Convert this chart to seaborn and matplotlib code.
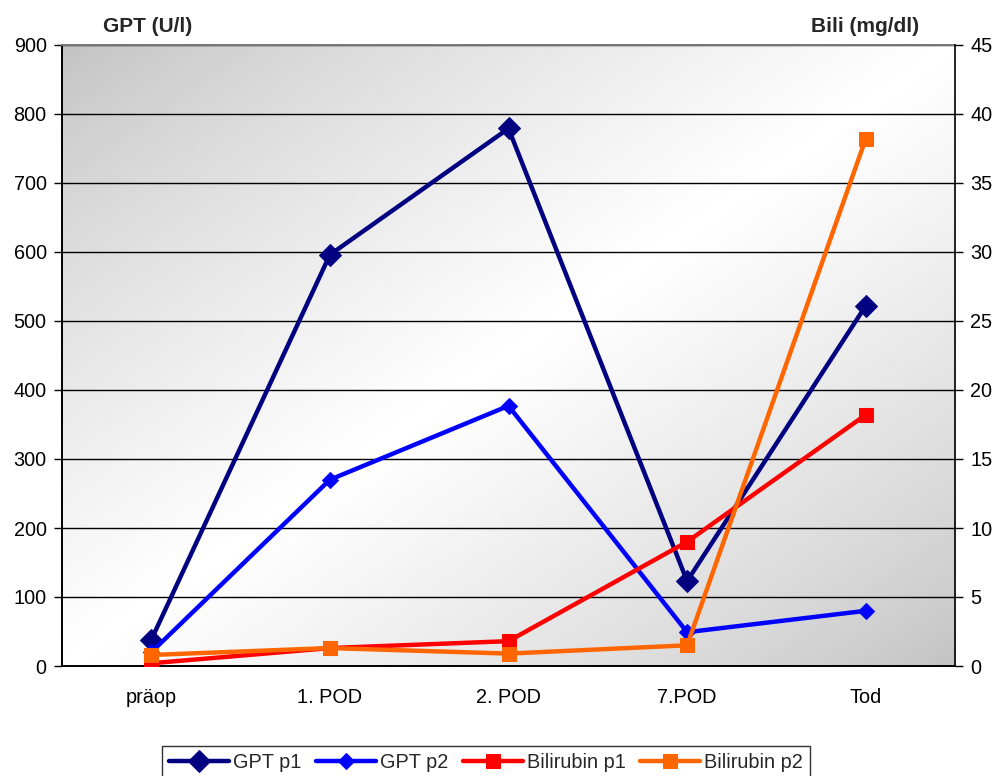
import numpy as np
import pandas as pd
import matplotlib
matplotlib.use("Agg")
import matplotlib.pyplot as plt
from matplotlib.ticker import MultipleLocator, FixedLocator
import seaborn as sns

# Time points
categories = ["präop", "1. POD", "2. POD", "7.POD", "Tod"]

# GPT (U/l), left axis
gpt_p1 = [38, 596, 779, 123, 522]
gpt_p2 = [20, 270, 377, 49, 80]

# Bilirubin (mg/dl), right axis
bili_p1 = [0.2, 1.3, 1.8, 9.0, 18.2]
bili_p2 = [0.8, 1.3, 0.9, 1.5, 38.2]

sns.set_theme(style="white")
plt.rcParams["font.family"] = ["Liberation Sans", "DejaVu Sans"]

FS = 14.3

fig = plt.figure(figsize=(9.97, 7.76), dpi=100)
ax = fig.add_axes([62 / 997, 1 - 666 / 776, (955 - 62) / 997, (666 - 45) / 776])
ax2 = ax.twinx()

# Diagonal grey-white-grey background
n = 400
xx, yy = np.meshgrid(np.linspace(0, 1, n), np.linspace(0, 1, n))
t = (xx + (1 - yy)) / 2
shade = 0.76 + 0.24 * (1 - np.abs(2 * t - 1)) ** 0.8
ax.imshow(shade, cmap="gray", vmin=0, vmax=1, extent=[0, 1, 0, 1],
          origin="lower", transform=ax.transAxes, aspect="auto", zorder=-10,
          interpolation="bilinear")

gpt_df = pd.DataFrame({"Zeit": categories * 2,
                       "GPT": gpt_p1 + gpt_p2,
                       "Serie": ["GPT p1"] * 5 + ["GPT p2"] * 5})
bili_df = pd.DataFrame({"Zeit": categories * 2,
                        "Bili": bili_p1 + bili_p2,
                        "Serie": ["Bilirubin p1"] * 5 + ["Bilirubin p2"] * 5})

styles = {
    "GPT p1": dict(color="#000080", marker="D", markersize=11, lw=3.2),
    "GPT p2": dict(color="#0000FF", marker="D", markersize=8, lw=3.2),
    "Bilirubin p1": dict(color="#FF0000", marker="s", markersize=10, lw=3.2),
    "Bilirubin p2": dict(color="#FF6600", marker="s", markersize=10, lw=3.2),
}

for name in ["GPT p1", "GPT p2"]:
    s = styles[name]
    sns.lineplot(data=gpt_df[gpt_df["Serie"] == name], x="Zeit", y="GPT", ax=ax,
                 sort=False, color=s["color"], marker=s["marker"],
                 markersize=s["markersize"], linewidth=s["lw"],
                 markeredgecolor=s["color"], label=name, legend=False, zorder=3)
for name in ["Bilirubin p1", "Bilirubin p2"]:
    s = styles[name]
    sns.lineplot(data=bili_df[bili_df["Serie"] == name], x="Zeit", y="Bili", ax=ax2,
                 sort=False, color=s["color"], marker=s["marker"],
                 markersize=s["markersize"], linewidth=s["lw"],
                 markeredgecolor=s["color"], label=name, legend=False, zorder=3)

ax.set_xlim(-0.5, 4.5)
ax.set_ylim(0, 900)
ax2.set_ylim(0, 45)
ax.yaxis.set_major_locator(MultipleLocator(100))
ax2.yaxis.set_major_locator(MultipleLocator(5))

ax.set_xticks(range(len(categories)))
ax.set_xticklabels(categories)
ax.xaxis.set_minor_locator(FixedLocator(np.arange(-0.5, 5, 1)))
ax.tick_params(axis="x", which="major", length=0, pad=16, labelsize=FS, colors="black")
ax.tick_params(axis="x", which="minor", direction="inout", length=13, width=1, color="black")
ax.tick_params(axis="y", which="major", length=6, width=1, direction="out",
               left=True, labelsize=FS, colors="black", pad=5)
ax2.tick_params(axis="y", which="major", length=6, width=1, direction="out",
                right=True, labelsize=FS, colors="black", pad=5)

ax.set_xlabel("")
ax.set_ylabel("")
ax2.set_ylabel("")

ax.grid(axis="y", color="black", linewidth=1, zorder=0)
ax.set_axisbelow(True)
for sp in ["left", "bottom"]:
    ax.spines[sp].set_color("black")
    ax.spines[sp].set_linewidth(1.4)
ax.spines["top"].set_color("#777777")
ax.spines["top"].set_linewidth(1.4)
ax.spines["right"].set_visible(False)
ax2.spines["right"].set_color("black")
ax2.spines["right"].set_linewidth(1.2)
for sp in ["left", "bottom", "top"]:
    ax2.spines[sp].set_visible(False)
ax2.patch.set_visible(False)

fig.text(148 / 997, 1 - 27 / 776, "GPT (U/l)", ha="center", va="center",
         fontsize=15, fontweight="bold")
fig.text(865 / 997, 1 - 27 / 776, "Bili (mg/dl)", ha="center", va="center",
         fontsize=15, fontweight="bold")

h1, l1 = ax.get_legend_handles_labels()
h2, l2 = ax2.get_legend_handles_labels()
leg = fig.legend(h1 + h2, l1 + l2, loc="upper center", ncol=4,
                 bbox_to_anchor=(486 / 997, 1 - 746 / 776), frameon=True,
                 fancybox=False, edgecolor="black", fontsize=FS,
                 handlelength=3.0, handletextpad=0.2, columnspacing=0.75,
                 borderpad=0.35, borderaxespad=0)
leg.get_frame().set_linewidth(1.0)

fig.savefig("out.png", dpi=100)
